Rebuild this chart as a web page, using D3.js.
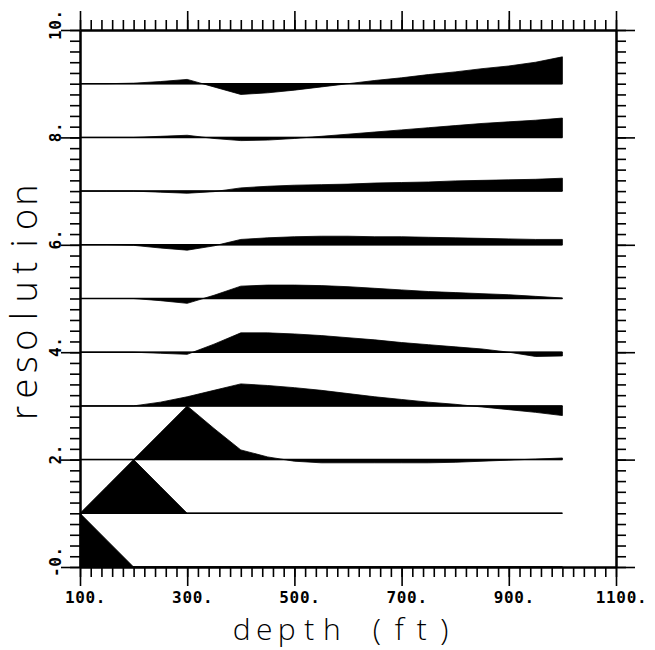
<!DOCTYPE html>
<html>
<head>
<meta charset="utf-8">
<script src="https://cdn.jsdelivr.net/npm/d3@7/dist/d3.min.js"></script>
<style>
  html, body { margin: 0; padding: 0; background: #fff; }
  svg { display: block; }
</style>
</head>
<body>
<svg id="chart" width="655" height="650"></svg>
<script>
// Depth samples (ft) shared by every trace
const depth = [100, 150, 200, 250, 300, 350, 400, 450, 500, 550, 600, 650, 700, 750, 800, 850, 900, 950, 1000];

// Resolution kernels, one per target depth; each is offset onto its own baseline (0..9)
const res0 = [1.00, 0.50, 0, 0, 0, 0, 0, 0, 0, 0, 0, 0, 0, 0, 0, 0, 0, 0, 0];
const res1 = [0, 0.50, 1.00, 0.50, 0, 0, 0, 0, 0, 0, 0, 0, 0, 0, 0, 0, 0, 0, 0];
const res2 = [0, 0, 0, 0.50, 1.00, 0.58, 0.18, 0.05, -0.03, -0.06, -0.06, -0.06, -0.06, -0.06, -0.05, -0.03, -0.01, 0.01, 0.03];
const res3 = [0, 0, 0, 0.07, 0.17, 0.29, 0.41, 0.38, 0.34, 0.29, 0.23, 0.17, 0.12, 0.07, 0.03, -0.02, -0.07, -0.12, -0.18];
const res4 = [0, 0, 0, -0.02, -0.04, 0.15, 0.36, 0.36, 0.34, 0.31, 0.27, 0.23, 0.18, 0.14, 0.10, 0.06, 0.00, -0.08, -0.07];
const res5 = [0, 0, 0, -0.04, -0.09, 0.06, 0.23, 0.25, 0.25, 0.24, 0.22, 0.19, 0.16, 0.13, 0.11, 0.09, 0.07, 0.04, 0.01];
const res6 = [0, 0, -0.01, -0.06, -0.10, -0.02, 0.10, 0.13, 0.15, 0.16, 0.16, 0.15, 0.15, 0.14, 0.13, 0.12, 0.11, 0.10, 0.10];
const res7 = [0, 0, 0, -0.02, -0.04, -0.01, 0.06, 0.09, 0.11, 0.12, 0.13, 0.15, 0.16, 0.17, 0.19, 0.20, 0.21, 0.22, 0.24];
const res8 = [0, 0, 0, 0.02, 0.04, -0.02, -0.06, -0.05, -0.02, 0.02, 0.06, 0.10, 0.14, 0.18, 0.22, 0.26, 0.29, 0.32, 0.36];
const res9 = [0, 0, 0.01, 0.04, 0.08, -0.06, -0.20, -0.17, -0.12, -0.06, 0.00, 0.06, 0.11, 0.17, 0.22, 0.28, 0.33, 0.40, 0.50];

const traces = [res0, res1, res2, res3, res4, res5, res6, res7, res8, res9];

// Axis ticks and labels
const xMajor = [100, 300, 500, 700, 900, 1100];
const xLabels = ["100.", "300.", "500.", "700.", "900.", "1100."];
const yMajor = [0, 2, 4, 6, 8, 10];
const yLabels = ["-0.", "2.", "4.", "6.", "8.", "10."];
const xMinorStep = 20;
const yMinorStep = 0.2;

const svg = d3.select("#chart");

const x = d3.scaleLinear().domain([100, 1100]).range([80, 616]);
const y = d3.scaleLinear().domain([0, 10]).range([567, 30]);

const xMinor = d3.range(100, 1100 + 1e-6, xMinorStep).map(v => Math.round(v));
const yMinor = d3.range(0, 10 + 1e-6, yMinorStep).map(v => +v.toFixed(2));

// Filled kernels
const plot = svg.append("g");
traces.forEach((vals, k) => {
  const area = d3.area()
    .x((d, i) => x(depth[i]))
    .y0(y(k))
    .y1(d => y(k + d));
  plot.append("path")
    .datum(vals)
    .attr("d", area)
    .attr("fill", "#000")
    .attr("stroke", "#000")
    .attr("stroke-width", 0.8)
    .attr("stroke-linejoin", "round");

  // baseline for this kernel
  const base = d3.line().x(d => x(d)).y(() => y(k));
  plot.append("path")
    .datum([depth[0], depth[depth.length - 1]])
    .attr("d", base)
    .attr("fill", "none")
    .attr("stroke", "#000")
    .attr("stroke-width", 1.5);
});

// Frame axes with outward ticks on all four sides (minor and major in separate groups)
function drawAxis(axisFn, scale, transform, minor, major) {
  const gMinor = svg.append("g").attr("transform", transform)
    .call(axisFn(scale).tickValues(minor).tickSize(10).tickSizeOuter(0).tickFormat(""));
  const gMajor = svg.append("g").attr("transform", transform)
    .call(axisFn(scale).tickValues(major).tickSize(19).tickSizeOuter(0).tickFormat(""));
  [gMinor, gMajor].forEach(g => {
    g.selectAll(".domain").attr("stroke", "#000").attr("stroke-width", 2);
    g.selectAll(".tick line").attr("stroke", "#000").attr("stroke-width", 1.6);
  });
}
drawAxis(d3.axisBottom, x, `translate(0,${y(0)})`, xMinor, xMajor);
drawAxis(d3.axisTop, x, `translate(0,${y(10)})`, xMinor, xMajor);
drawAxis(d3.axisLeft, y, `translate(${x(100)},0)`, yMinor, yMajor);
drawAxis(d3.axisRight, y, `translate(${x(1100)},0)`, yMinor, yMajor);

// Place glyphs on a fixed pitch, centring the digits (not the trailing point) on the tick
function pitchPositions(str, centre, adv, skipTrailingDot) {
  const n = skipTrailingDot && str.endsWith(".") ? str.length - 1 : str.length;
  return Array.from(str, (c, i) => (centre + (i - (n - 1) / 2) * adv).toFixed(2)).join(" ");
}

const tickFont = "'DejaVu Sans Mono', 'Liberation Mono', monospace";

// Bottom tick labels
svg.append("g").selectAll("text")
  .data(xMajor)
  .join("text")
  .attr("x", (d, i) => pitchPositions(xLabels[i], x(d), 10.3, true))
  .attr("y", 603)
  .attr("text-anchor", "middle")
  .attr("font-family", tickFont)
  .attr("font-weight", "bold")
  .attr("font-size", 16)
  .attr("fill", "#000")
  .text((d, i) => xLabels[i]);

// Left tick labels, rotated to read upward
svg.append("g").selectAll("g")
  .data(yMajor)
  .join("g")
  .attr("transform", d => `translate(55,${y(d)}) rotate(-90)`)
  .append("text")
  .attr("x", (d, i) => pitchPositions(yLabels[i], 0, 10.3, true))
  .attr("y", 5.8)
  .attr("text-anchor", "middle")
  .attr("font-family", tickFont)
  .attr("font-weight", "bold")
  .attr("font-size", 16)
  .attr("fill", "#000")
  .text((d, i) => yLabels[i]);

// Axis titles in a light, evenly pitched face
const titleFont = "'Open Sans', 'DejaVu Sans', sans-serif";

const xTitle = "depth (ft)";
svg.append("text")
  .attr("x", pitchPositions(xTitle, 343, 22.5, false))
  .attr("y", 640)
  .attr("text-anchor", "middle")
  .attr("font-family", titleFont)
  .attr("font-weight", 300)
  .attr("font-size", 30)
  .attr("fill", "#000")
  .text(xTitle);

const yTitle = "resolution";
svg.append("g")
  .attr("transform", "translate(37,304) rotate(-90)")
  .append("text")
  .attr("x", pitchPositions(yTitle, 0, 24.2, false))
  .attr("y", 0)
  .attr("text-anchor", "middle")
  .attr("font-family", titleFont)
  .attr("font-weight", 300)
  .attr("font-size", 36)
  .attr("fill", "#000")
  .text(yTitle);
</script>
</body>
</html>
